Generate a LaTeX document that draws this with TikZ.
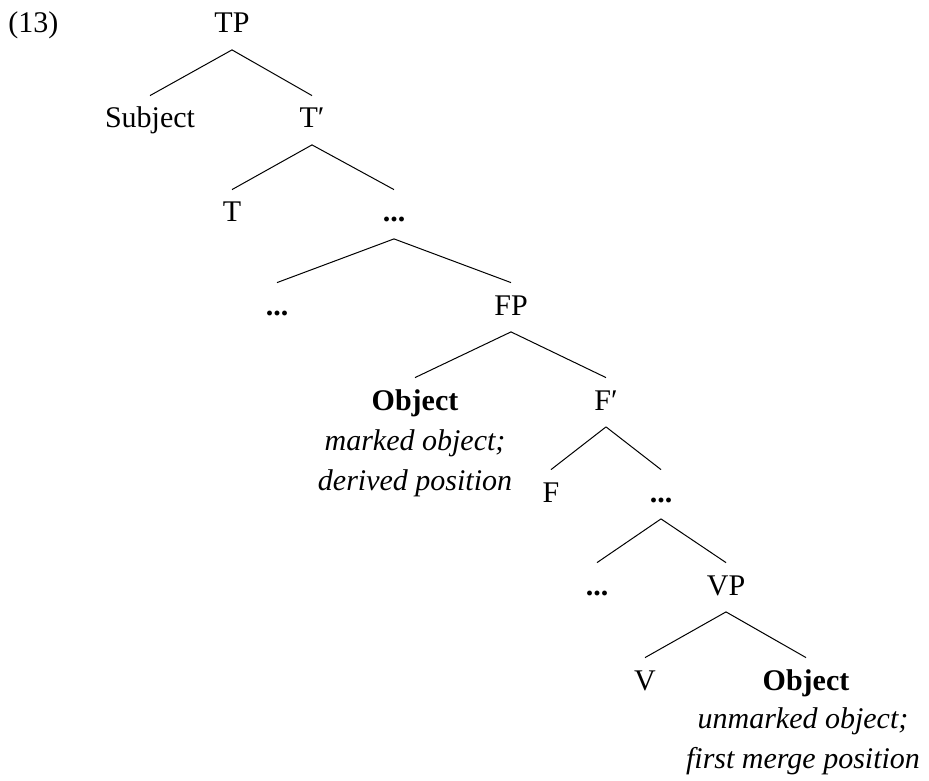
\documentclass[tikz,border=0pt]{standalone}
\usepackage{fontspec}
\setmainfont{Liberation Serif}
\usetikzlibrary{positioning}
\tikzstyle{cat} = [
    anchor=base,
    inner sep=0pt,
    text height=16pt, % keeps the branch ends clear of the label
    text depth=8.25pt,
    font=\fontsize{15}{20}\selectfont
]
\tikzstyle{obj} = [
    cat,
    font=\fontsize{15}{20}\selectfont\bfseries
]
\tikzstyle{note} = [
    anchor=base, % base of a two-line note is its last line
    inner sep=0pt,
    align=center,
    font=\fontsize{15}{20}\selectfont\itshape
]
\tikzstyle{branch} = [
    line width=0.5pt
]

\begin{document}
\begin{tikzpicture}[x=0.5pt, y=-0.5pt]
\useasboundingbox (0,0) rectangle (929,780);
\node [cat, anchor=base west] (exno) at (8,33) {(13)};
% spine of the tree
\node [cat] (tp) at (232,33) {TP};
\node [cat] (subj) at (150,128) {Subject};
\node [cat] (tbar) at (312,128) {T′};
\node [cat] (t) at (232,222) {T};
\node [cat] (dotsA) at (394,222) {\textbf{...}};
\node [cat] (dotsB) at (277,315) {\textbf{...}};
\node [cat] (fp) at (511,315) {FP};
\node [obj] (objF) at (415,410) {Object};
\node [cat] (fbar) at (606,410) {F′};
\node [cat] (f) at (551,502) {F};
\node [cat] (dotsC) at (661,502) {\textbf{...}};
\node [cat] (dotsD) at (597,595) {\textbf{...}};
\node [cat] (vp) at (726,595) {VP};
\node [cat] (v) at (645,690) {V};
\node [obj] (objV) at (806,690) {Object};
% comments under the objects
\node [note] (noteF) at (415,490) {marked object;\\derived position};
\node [note] (noteV) at (803,768) {unmarked object;\\first merge position};
\foreach \p/\c in {tp/subj, tp/tbar, tbar/t, tbar/dotsA, dotsA/dotsB, dotsA/fp,
    fp/objF, fp/fbar, fbar/f, fbar/dotsC, dotsC/dotsD, dotsC/vp, vp/v, vp/objV}
    \draw [branch] (\p.south) -- (\c.north);
\end{tikzpicture}
\end{document}
